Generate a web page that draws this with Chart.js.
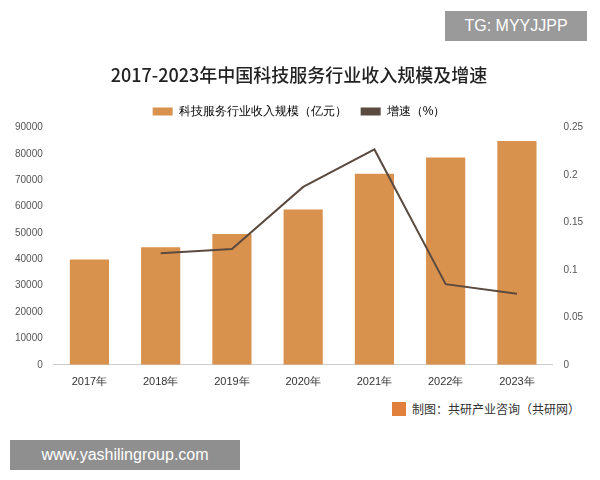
<!DOCTYPE html>
<html><head><meta charset="utf-8">
<script src="https://cdn.jsdelivr.net/npm/chart.js@4"></script>
<style>
body{margin:0;width:600px;height:480px;background:#fff;position:relative;font-family:"Noto Sans CJK SC",sans-serif;overflow:hidden}
#wrap{position:absolute;left:0;top:58px;width:600px;height:334px}
.tg{position:absolute;left:445px;top:11px;width:142px;height:30px;background:#9a9a9a;color:#fff;font:16px "Liberation Sans",sans-serif;line-height:30px;text-align:center}
.www{position:absolute;left:10px;top:440px;width:230px;height:30px;background:#8f8f8f;color:#fff;font:16px "Liberation Sans",sans-serif;line-height:30px;text-align:center}
.src{position:absolute;left:392px;top:400px;font-size:12px;color:#333}
.src b{display:inline-block;width:14px;height:14px;background:#e0803a;vertical-align:-2px;margin-right:6px}
</style></head><body>
<div id="wrap"><canvas id="c"></canvas></div>
<div class="tg">TG: MYYJJPP</div>
<div class="www">www.yashilingroup.com</div>
<div class="src"><b></b>制图：共研产业咨询（共研网）</div>
<script>
const categories=["2017年","2018年","2019年","2020年","2021年","2022年","2023年"];
const scale=[40000,44600,49600,58900,72500,78700,84900];
const growth=[null,0.1175,0.122,0.1875,0.227,0.085,0.075];
new Chart(document.getElementById('c'),{
 data:{labels:categories,datasets:[
  {type:'line',label:'增速（%）',data:growth,yAxisID:'y1',borderColor:'#5b4a40',backgroundColor:'#5b4a40',borderWidth:2,pointRadius:0,tension:0,order:0},
  {type:'bar',label:'科技服务行业收入规模（亿元）',data:scale,yAxisID:'y',backgroundColor:'#d9914e',categoryPercentage:0.55,barPercentage:1,order:1}
 ]},
 options:{responsive:true,maintainAspectRatio:false,animation:false,
  layout:{padding:{left:12,right:14,top:0,bottom:0}},
  plugins:{title:{display:true,text:'2017-2023年中国科技服务行业收入规模及增速',color:'#222',font:{size:18,weight:'500',family:'Noto Sans CJK SC'},padding:{top:6,bottom:6}},
   legend:{reverse:true,labels:{boxWidth:20,boxHeight:8,color:'#333',font:{size:12},padding:14,
    generateLabels(ch){return ch.data.datasets.map((d,i)=>({text:d.label,fillStyle:d.backgroundColor,strokeStyle:d.backgroundColor,lineWidth:0,datasetIndex:i}));}}}},
  scales:{
   x:{grid:{display:false},border:{color:'#ccc'},ticks:{color:'#333',font:{size:11}}},
   y:{min:0,max:90000,ticks:{stepSize:10000,color:'#555',font:{size:10},callback:v=>String(v)},grid:{display:false},border:{display:false}},
   y1:{position:'right',min:0,max:0.25,ticks:{stepSize:0.05,color:'#555',font:{size:10},callback:v=>String(+v.toFixed(2))},grid:{display:false},border:{display:false}}
  }}
});
</script></body></html>
